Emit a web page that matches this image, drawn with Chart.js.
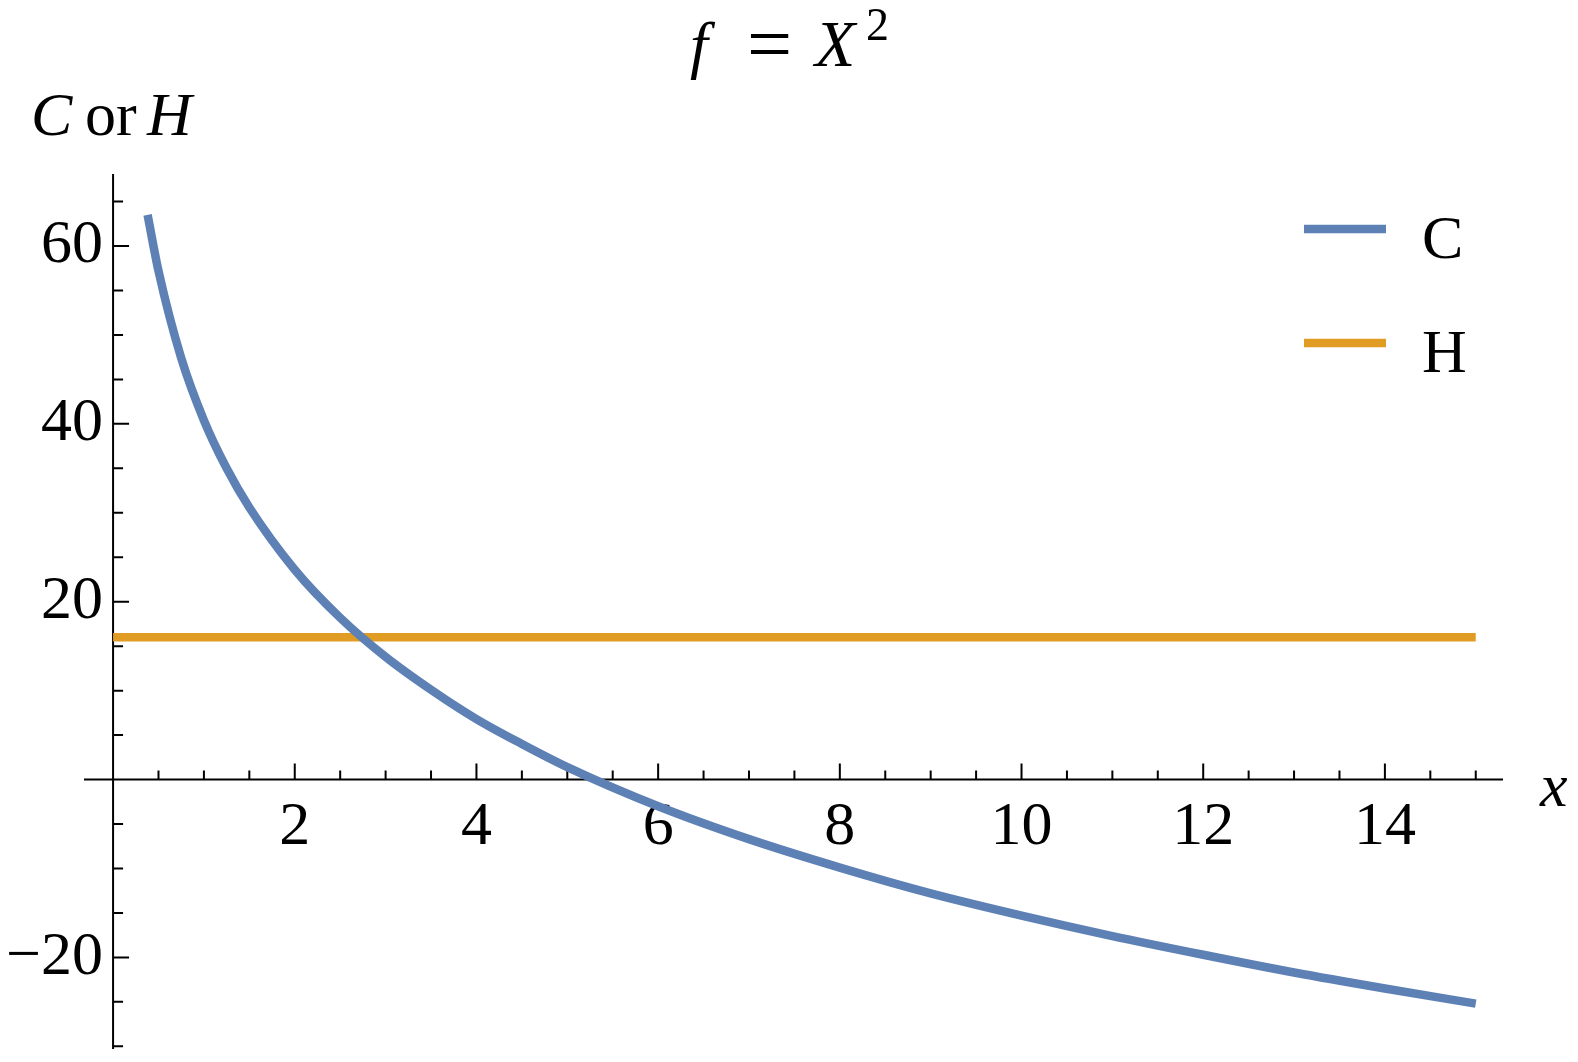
<!DOCTYPE html>
<html>
<head>
  <meta charset="utf-8">
  <title>f = X^2</title>
  <script src="https://cdn.jsdelivr.net/npm/chart.js"></script>
  <style>
    html, body { margin: 0; padding: 0; background: #fff; }
    #wrap { width: 1578px; height: 1062px; }
  </style>
</head>
<body>
  <div id="wrap"><canvas id="plot"></canvas></div>
<script>
    // values
    const cX = [0.38, 0.5, 0.75, 1, 1.25, 1.5, 2, 2.5, 3, 3.5, 4, 4.5, 5, 6, 7, 8, 9, 10, 11, 12, 13, 14, 15];
    const cY = [63.5, 57.2, 47.4, 40.4, 35.0, 30.6, 23.6, 18.2, 13.8, 10.1, 6.8, 4.0, 1.4, -3.0, -6.7, -9.9, -12.8, -15.3, -17.6, -19.7, -21.7, -23.5, -25.2];
    const hX = [0, 15];
    const hY = [16, 16];
    const xTicks = [2, 4, 6, 8, 10, 12, 14];
    const yTicks = [-20, 20, 40, 60];
    const xMinorStep = 0.5;
    const yMinorStep = 5;

    const serif = '"Liberation Serif", "Times New Roman", serif';
    const blue = '#5e81b5';
    const orange = '#e19c24';

    function pairs(xs, ys) {
      return xs.map((v, i) => ({ x: v, y: ys[i] }));
    }

    // scales sit on the axes, so don't let their labels shrink the plot area
    function noPadding(scale) {
      scale.paddingTop = scale.paddingBottom = scale.paddingLeft = scale.paddingRight = 0;
    }

    const axisDecor = {
      id: 'axisDecor',
      beforeDatasetsDraw(chart) {
        const { ctx, chartArea } = chart;
        const x = chart.scales.x, y = chart.scales.y;
        const x0 = x.getPixelForValue(0), y0 = y.getPixelForValue(0);
        ctx.save();
        ctx.strokeStyle = '#000';
        ctx.lineWidth = 2;
        ctx.beginPath();
        ctx.moveTo(chartArea.left, y0); ctx.lineTo(chartArea.right, y0);
        ctx.moveTo(x0, chartArea.top); ctx.lineTo(x0, chartArea.bottom);
        // x ticks point up
        for (let v = xMinorStep; v <= x.max; v += xMinorStep) {
          const px = x.getPixelForValue(v);
          const len = xTicks.includes(v) ? 16 : 9;
          ctx.moveTo(px, y0); ctx.lineTo(px, y0 - len);
        }
        // y ticks point right
        for (let v = Math.ceil(y.min / yMinorStep) * yMinorStep; v <= y.max; v += yMinorStep) {
          if (v === 0) continue;
          const py = y.getPixelForValue(v);
          const len = yTicks.includes(v) ? 16 : 10;
          ctx.moveTo(x0, py); ctx.lineTo(x0 + len, py);
        }
        ctx.stroke();
        ctx.restore();
      },
      afterDraw(chart) {
        const { ctx, chartArea } = chart;
        const y0 = chart.scales.y.getPixelForValue(0);
        ctx.save();
        ctx.fillStyle = '#000';
        ctx.textAlign = 'left';
        ctx.textBaseline = 'alphabetic';

        // title: f = X^2
        ctx.font = 'italic 64px ' + serif;
        ctx.fillText('f', 690, 66);
        ctx.font = '80px ' + serif;
        ctx.fillText('=', 747, 71);
        ctx.font = 'italic 66px ' + serif;
        ctx.fillText('X', 815, 66);
        ctx.font = '46px ' + serif;
        ctx.fillText('2', 866, 40);

        // y axis label: C or H
        ctx.font = 'italic 62px ' + serif;
        ctx.fillText('C', 31, 135);
        ctx.font = '62px ' + serif;
        ctx.fillText('or', 85, 135);
        ctx.font = 'italic 62px ' + serif;
        ctx.fillText('H', 147, 135);

        // x axis label
        ctx.font = 'italic 62px ' + serif;
        ctx.fillText('x', 1540, y0 + 26);

        // legend
        const lx = chartArea.right - 199;
        chart.data.datasets.forEach((ds, i) => {
          const ly = 229 + i * 114;
          ctx.strokeStyle = ds.borderColor;
          ctx.lineWidth = 8.5;
          ctx.beginPath();
          ctx.moveTo(lx, ly); ctx.lineTo(lx + 82, ly);
          ctx.stroke();
          ctx.font = '62px ' + serif;
          ctx.fillText(ds.label, lx + 118, ly + 29);
        });
        ctx.restore();
      }
    };

    window.onload = () => {
      new Chart(document.getElementById('plot'), {
        type: 'line',
        data: {
          datasets: [
            {
              label: 'C',
              data: pairs(cX, cY),
              borderColor: blue,
              borderWidth: 8.5,
              pointRadius: 0,
              cubicInterpolationMode: 'monotone',
              borderCapStyle: 'butt',
            },
            {
              label: 'H',
              data: pairs(hX, hY),
              borderColor: orange,
              borderWidth: 8.5,
              pointRadius: 0,
              borderCapStyle: 'butt',
            },
          ],
        },
        options: {
          responsive: true,
          maintainAspectRatio: false,
          animation: false,
          layout: { padding: { left: 84, right: 75, top: 174, bottom: 13 } },
          plugins: {
            legend: { display: false },
            tooltip: { enabled: false },
          },
          scales: {
            x: {
              type: 'linear',
              min: -0.32,
              max: 15.3,
              position: { y: 0 },
              grid: { display: false },
              border: { display: false },
              afterBuildTicks: (scale) => { scale.ticks = xTicks.map(v => ({ value: v })); },
              afterFit: noPadding,
              ticks: {
                color: '#000',
                padding: 3,
                maxRotation: 0,
                autoSkip: false,
                font: { family: serif, size: 62 },
              },
            },
            y: {
              type: 'linear',
              min: -30.3,
              max: 68.1,
              // labels anchor here; the axis line itself is drawn at x = 0 by axisDecor
              position: { x: -0.11 },
              grid: { display: false },
              border: { display: false },
              afterBuildTicks: (scale) => { scale.ticks = yTicks.map(v => ({ value: v })); },
              afterFit: noPadding,
              ticks: {
                color: '#000',
                autoSkip: false,
                font: { family: serif, size: 62 },
                callback: (v) => v < 0 ? '\u2212' + Math.abs(v) : String(v),
              },
            },
          },
        },
        plugins: [axisDecor],
      });
    };
</script>
</body>
</html>
